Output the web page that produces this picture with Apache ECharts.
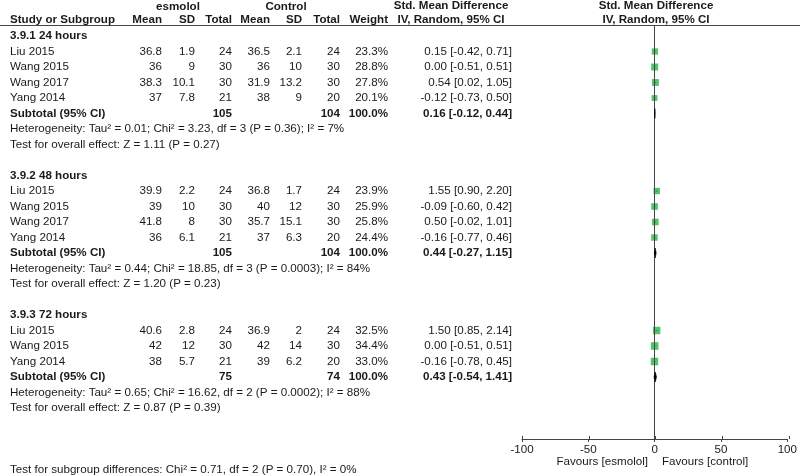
<!DOCTYPE html>
<html><head><meta charset="utf-8">
<script src="https://cdn.jsdelivr.net/npm/echarts@6/dist/echarts.min.js"></script>
<style>html,body{margin:0;padding:0;background:#fff}#c{width:800px;height:476px}</style>
</head><body><div id="c"></div>
<script>
// ---- data ----
const groupLabels = ['3.9.1 24 hours', '3.9.2 48 hours', '3.9.3 72 hours'];
const studyNames = [['Liu 2015','Wang 2015','Wang 2017','Yang 2014'],['Liu 2015','Wang 2015','Wang 2017','Yang 2014'],['Liu 2015','Wang 2015','Yang 2014']];
const eMean = [[36.8,36,38.3,37],[39.9,39,41.8,36],[40.6,42,38]];
const eSD   = [[1.9,9,10.1,7.8],[2.2,10,8,6.1],[2.8,12,5.7]];
const eN    = [[24,30,30,21],[24,30,30,21],[24,30,21]];
const cMean = [[36.5,36,31.9,38],[36.8,40,35.7,37],[36.9,42,39]];
const cSD   = [[2.1,10,13.2,9],[1.7,12,15.1,6.3],[2,14,6.2]];
const cN    = [[24,30,30,20],[24,30,30,20],[24,30,20]];
const weights = [[23.3,28.8,27.8,20.1],[23.9,25.9,25.8,24.4],[32.5,34.4,33.0]];
const smd  = [[0.15,0.00,0.54,-0.12],[1.55,-0.09,0.50,-0.16],[1.50,0.00,-0.16]];
const ciLo = [[-0.42,-0.51,0.02,-0.73],[0.90,-0.60,-0.02,-0.77],[0.85,-0.51,-0.78]];
const ciHi = [[0.71,0.51,1.05,0.50],[2.20,0.42,1.01,0.46],[2.14,0.51,0.45]];
const subTotalE = [105,105,75];
const subTotalC = [104,104,74];
const subSMD = [0.16,0.44,0.43];
const subLo  = [-0.12,-0.27,-0.54];
const subHi  = [0.44,1.15,1.41];
const hetTexts = [
  'Heterogeneity: Tau\u00b2 = 0.01; Chi\u00b2 = 3.23, df = 3 (P = 0.36); I\u00b2 = 7%',
  'Heterogeneity: Tau\u00b2 = 0.44; Chi\u00b2 = 18.85, df = 3 (P = 0.0003); I\u00b2 = 84%',
  'Heterogeneity: Tau\u00b2 = 0.65; Chi\u00b2 = 16.62, df = 2 (P = 0.0002); I\u00b2 = 88%'];
const overallTexts = [
  'Test for overall effect: Z = 1.11 (P = 0.27)',
  'Test for overall effect: Z = 1.20 (P = 0.23)',
  'Test for overall effect: Z = 0.87 (P = 0.39)'];
const subgroupText = 'Test for subgroup differences: Chi\u00b2 = 0.71, df = 2 (P = 0.70), I\u00b2 = 0%';
const xTicks = [-100, -50, 0, 50, 100];
const favourLeft = 'Favours [esmolol]';
const favourRight = 'Favours [control]';

// ---- build rows ----
const groupStart = [0, 9, 18];
const squares = [], ciLines = [], diamonds = [];
groupLabels.forEach((g, gi) => {
  const base = groupStart[gi];
  studyNames[gi].forEach((s, si) => {
    const r = base + 1 + si;
    squares.push([smd[gi][si], r, weights[gi][si]]);
    ciLines.push([ciLo[gi][si], ciHi[gi][si], r]);
  });
  const rs = base + 1 + studyNames[gi].length;
  diamonds.push([subLo[gi], subSMD[gi], subHi[gi], rs]);
});

const FONT = "'Liberation Sans', Arial, sans-serif";
const FS = 11.6;
const TC = '#1a1a1a';
const LC = '#444';

const gridRect = {left: 522, right: 11, top: 25, bottom: 37};
const chart = echarts.init(document.getElementById('c'), null, {renderer: 'canvas'});
chart.setOption({
  animation: false,
  grid: [Object.assign({}, gridRect), Object.assign({}, gridRect)],
  xAxis: [{
    gridIndex: 0, type: 'value', min: xTicks[0], max: xTicks[xTicks.length - 1], interval: 50, position: 'bottom',
    axisLine: {show: true, onZero: false, lineStyle: {color: LC, width: 1}},
    axisTick: {show: true, length: 3, lineStyle: {color: LC}},
    axisLabel: {show: true, color: TC, fontFamily: FONT, fontSize: FS, margin: 5},
    splitLine: {show: false}
  }, {
    gridIndex: 1, type: 'value', min: xTicks[0], max: xTicks[xTicks.length - 1], interval: 50, position: 'bottom',
    axisLine: {show: false, onZero: false},
    axisTick: {show: true, inside: true, length: 3, lineStyle: {color: LC}},
    axisLabel: {show: false}, splitLine: {show: false}
  }],
  yAxis: [
    {gridIndex: 0, type: 'value', inverse: true, min: -0.7097, max: 26.0, show: false},
    {gridIndex: 1, type: 'value', inverse: true, min: -0.7097, max: 26.0, show: false}
  ],
  series: [
    {
      type: 'custom', renderItem: (p, api) => {
        const a = api.coord([api.value(0), api.value(2)]);
        const b = api.coord([api.value(1), api.value(2)]);
        return {type: 'line', shape: {x1: a[0], y1: a[1], x2: b[0], y2: b[1]}, style: {stroke: '#111', lineWidth: 1}};
      }, data: ciLines, z: 3
    },
    {
      type: 'scatter', symbol: 'rect', data: squares,
      symbolSize: v => Math.sqrt(v[2]) * 1.3,
      itemStyle: {color: '#28b44a'}, z: 4,
      markLine: {silent: true, symbol: 'none', label: {show: false},
        lineStyle: {color: LC, type: 'solid', width: 1},
        data: [{xAxis: 0}]}
    },
    {
      type: 'custom', renderItem: (p, api) => {
        const l = api.coord([api.value(0), api.value(3)]);
        const m = api.coord([api.value(1), api.value(3)]);
        const r = api.coord([api.value(2), api.value(3)]);
        return {type: 'polygon', shape: {points: [[l[0], l[1]], [m[0], m[1] - 5], [r[0], r[1]], [m[0], m[1] + 5]]},
          style: {fill: '#000', stroke: '#000', lineWidth: 0.6}};
      }, data: diamonds, z: 5
    }
  ]
});

// ---- text table ----
const rowY = k => chart.convertToPixel({yAxisIndex: 0}, k);
const els = [];
function txt(s, x, y, align, bold) {
  els.push({type: 'text', x: x, y: y, z: 10, style: {text: String(s), x: 0, y: 0, fill: TC,
    font: (bold ? 'bold ' : '') + FS + 'px ' + FONT, textAlign: align || 'left', textVerticalAlign: 'middle'}});
}
// headers
txt('esmolol', 178, 7, 'center', true);
txt('Control', 286, 7, 'center', true);
txt('Std. Mean Difference', 451, 6, 'center', true);
txt('Std. Mean Difference', 656, 6, 'center', true);
const hy = 20;
txt('Study or Subgroup', 10, hy, 'left', true);
txt('Mean', 162, hy, 'right', true);
txt('SD', 195, hy, 'right', true);
txt('Total', 232, hy, 'right', true);
txt('Mean', 270, hy, 'right', true);
txt('SD', 302, hy, 'right', true);
txt('Total', 340, hy, 'right', true);
txt('Weight', 388, hy, 'right', true);
txt('IV, Random, 95% CI', 451, hy, 'center', true);
txt('IV, Random, 95% CI', 656, hy, 'center', true);
els.push({type: 'line', z: 9, shape: {x1: 0, y1: 25.5, x2: 800, y2: 25.5}, style: {stroke: LC, lineWidth: 1}});

const fmt2 = v => v.toFixed(2);
groupLabels.forEach((g, gi) => {
  const base = groupStart[gi];
  txt(g, 10, rowY(base), 'left', true);
  studyNames[gi].forEach((s, si) => {
    const y = rowY(base + 1 + si);
    txt(s, 10, y, 'left');
    txt(eMean[gi][si], 162, y, 'right');
    txt(eSD[gi][si], 195, y, 'right');
    txt(eN[gi][si], 232, y, 'right');
    txt(cMean[gi][si], 270, y, 'right');
    txt(cSD[gi][si], 302, y, 'right');
    txt(cN[gi][si], 340, y, 'right');
    txt(weights[gi][si].toFixed(1) + '%', 388, y, 'right');
    txt(fmt2(smd[gi][si]) + ' [' + fmt2(ciLo[gi][si]) + ', ' + fmt2(ciHi[gi][si]) + ']', 512, y, 'right');
  });
  const n = studyNames[gi].length;
  const ys = rowY(base + 1 + n);
  txt('Subtotal (95% CI)', 10, ys, 'left', true);
  txt(subTotalE[gi], 232, ys, 'right', true);
  txt(subTotalC[gi], 340, ys, 'right', true);
  txt('100.0%', 388, ys, 'right', true);
  txt(fmt2(subSMD[gi]) + ' [' + fmt2(subLo[gi]) + ', ' + fmt2(subHi[gi]) + ']', 512, ys, 'right', true);
  txt(hetTexts[gi], 10, rowY(base + 2 + n), 'left');
  txt(overallTexts[gi], 10, rowY(base + 3 + n), 'left');
});
txt(subgroupText, 10, 470, 'left');
txt(favourLeft, 648, 462, 'right');
txt(favourRight, 662, 462, 'left');

chart.setOption({graphic: {elements: els}});
</script></body></html>
